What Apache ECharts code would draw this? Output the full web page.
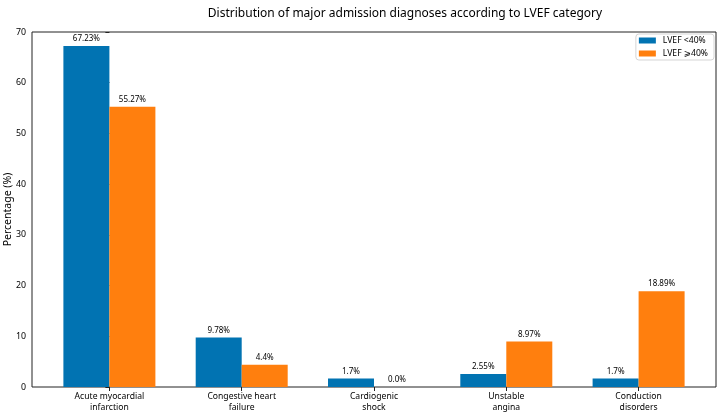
<!DOCTYPE html>
<html><head><meta charset="utf-8">
<script src="https://cdn.jsdelivr.net/npm/echarts@6/dist/echarts.min.js"></script>
<style>html,body{margin:0;padding:0;background:#fff}#c{width:722px;height:414px}</style>
</head><body><div id="c"></div>
<script>
const categories = ["Acute myocardial\ninfarction", "Congestive heart\nfailure", "Cardiogenic\nshock", "Unstable\nangina", "Conduction\ndisorders"];
const seriesNames = ["LVEF <40%", "LVEF \u2A7E40%"];
const lowEF = [67.23, 9.78, 1.7, 2.55, 1.7];
const highEF = [55.27, 4.4, 0.0, 8.97, 18.89];
const lowEFLabels = ["67.23%", "9.78%", "1.7%", "2.55%", "1.7%"];
const highEFLabels = ["55.27%", "4.4%", "0.0%", "8.97%", "18.89%"];
const yTicks = [0, 10, 20, 30, 40, 50, 60, 70];

const font = "Noto Sans, DejaVu Sans, sans-serif";
const chart = echarts.init(document.getElementById('c'), null, {renderer: 'canvas'});
const idx = categories.map((_, i) => i);
function mk(name, vals, labels, color) {
  return {
    name: name, type: 'bar', barWidth: 46, barGap: '0%',
    itemStyle: {color: color},
    data: vals.map((v, i) => [i, v]),
    label: {show: true, position: 'top', distance: 3, fontFamily: font, fontSize: 8, color: '#000',
      formatter: p => labels[p.dataIndex]},
    emphasis: {disabled: true}
  };
}
chart.setOption({
  animation: false,
  backgroundColor: '#fff',
  title: {text: 'Distribution of major admission diagnoses according to LVEF category',
    left: 400, top: 3, textAlign: 'center',
    textStyle: {fontFamily: font, fontSize: 12, fontWeight: 'normal', color: '#000'}},
  legend: {orient: 'vertical', right: 8, top: 34, itemWidth: 17, itemHeight: 6, itemGap: 4,
    padding: [2, 6, 2, 3], borderColor: '#d5d5d5', borderWidth: 1, borderRadius: 3, backgroundColor: '#fff',
    textStyle: {fontFamily: font, fontSize: 8.6, color: '#000', padding: [0, 0, 0, 2]}, icon: 'rect',
    data: seriesNames},
  grid: {left: 32, right: 6, top: 32, bottom: 27, outerBoundsMode: 'none', containLabel: false,
    show: true, borderColor: '#222', borderWidth: 1, backgroundColor: 'transparent'},
  xAxis: {type: 'value', min: -0.585, max: 4.585,
    splitLine: {show: false},
    axisLine: {show: false},
    axisTick: {show: true, length: 4, lineStyle: {color: '#222'}, customValues: idx},
    axisLabel: {customValues: idx, fontFamily: font, fontSize: 8.6, color: '#000', lineHeight: 11, margin: 4,
      formatter: v => categories[Math.round(v)]}
  },
  yAxis: {type: 'value', min: 0, max: 70, interval: 10,
    name: 'Percentage (%)', nameLocation: 'middle', nameGap: 18, nameRotate: 90, nameMoveOverlap: false,
    nameTextStyle: {fontFamily: font, fontSize: 10.5, color: '#000'},
    splitLine: {show: false},
    axisLine: {show: false},
    axisTick: {show: true, length: 4, lineStyle: {color: '#222'}},
    axisLabel: {fontFamily: font, fontSize: 8.8, color: '#000', margin: 6}
  },
  series: [mk(seriesNames[0], lowEF, lowEFLabels, '#0173B2'), mk(seriesNames[1], highEF, highEFLabels, '#FF7F0E')]
});
</script></body></html>
